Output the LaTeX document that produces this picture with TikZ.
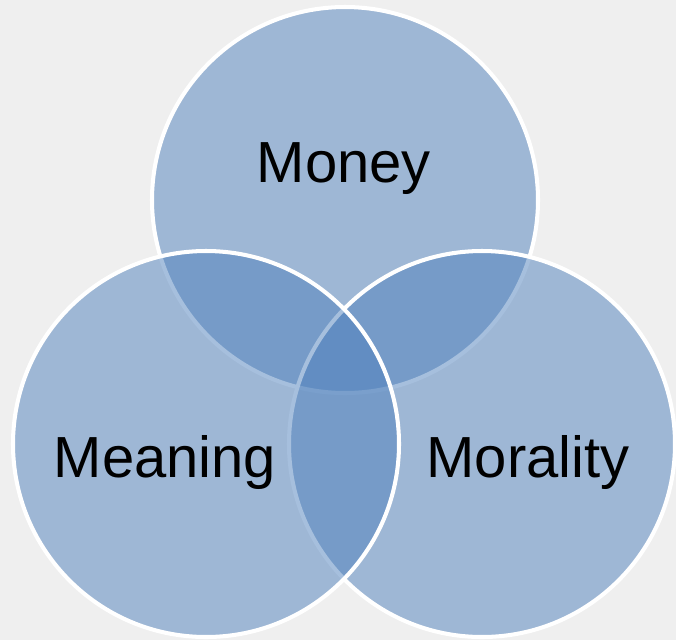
\documentclass[tikz,border=0pt]{standalone}
\usepackage{fontspec}
\setmainfont{Liberation Sans}
\usepackage{tikz}

\definecolor{accent}{RGB}{79,129,189}
\definecolor{backdrop}{RGB}{239,239,239}

\tikzset{
    setcircle/.style={fill=accent, fill opacity=0.5, draw=white, line width=2.3pt},
    setlabel/.style={anchor=base, text=black, font=\fontsize{33}{40}\selectfont}
}

\begin{document}
\begin{tikzpicture}[x=0.02cm, y=-0.02cm]
    % Background
    \fill[backdrop] (0,0) rectangle (676,640);
    \useasboundingbox (0,0) rectangle (676,640);

    % Circle centres
    \coordinate (top_c) at (345,200);
    \coordinate (right_c) at (482,444);
    \coordinate (left_c) at (206,444);

    % Circles, top first, left last
    \draw[setcircle] (top_c) circle[radius=193];
    \draw[setcircle] (right_c) circle[radius=193];
    \draw[setcircle] (left_c) circle[radius=193];

    % Labels
    \node at (344,182) [setlabel] (money) {Money};
    \node at (165,477) [setlabel] (meaning) {Meaning};
    \node at (528,477) [setlabel] (morality) {Morality};
\end{tikzpicture}
\end{document}
